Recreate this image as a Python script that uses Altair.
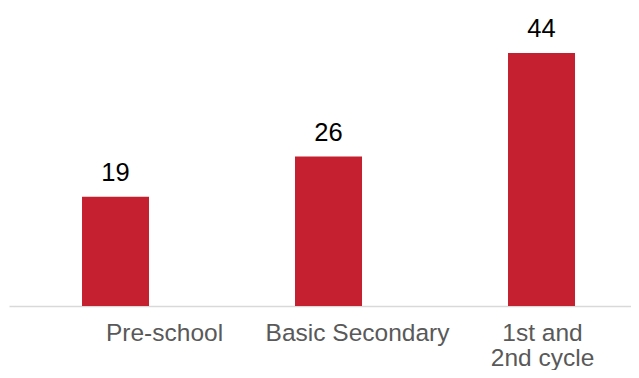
import json
import altair as alt
import pandas as pd

categories = ["Pre-school", "Basic Secondary", "1st and\n2nd cycle"]
values = [19, 26, 44]

# label horizontal offsets (style), keyed by category
label_offsets = {"Pre-school": 49, "Basic Secondary": 29, "1st and\n2nd cycle": 1}

df = pd.DataFrame({"cat": categories, "val": values})

offset_cond = {
    "condition": [
        {"test": "datum.value === " + json.dumps(c), "value": o}
        for c, o in label_offsets.items()
    ],
    "value": 0,
}

x = alt.X(
    "cat:N",
    sort=categories,
    title=None,
    scale=alt.Scale(paddingInner=0.68545, paddingOuter=0.30282, align=0.566),
    axis=alt.Axis(
        labelAngle=0,
        labelExpr="split(datum.label, '\\n')",
        labelFont="Liberation Sans",
        labelFontSize=24.5,
        labelColor="#595959",
        labelLineHeight=25,
        labelPadding=15,
        labelBaseline="top",
        labelLimit=500,
        labelOffset=offset_cond,
        ticks=False,
        tickSize=0,
        domainColor="#d9d9d9",
        domainWidth=1.5,
        grid=False,
    ),
)
y = alt.Y("val:Q", axis=None, scale=alt.Scale(domain=[0, 51.83], nice=False, zero=True))

bars = alt.Chart(df).mark_bar(color="#C5202F").encode(x=x, y=y)
text = alt.Chart(df).mark_text(
    dy=-16, baseline="alphabetic", font="Liberation Sans", fontSize=25.5, color="#000000"
).encode(x=x, y=y, text="val:Q")

chart = (
    alt.layer(bars, text)
    .properties(
        width=622,
        height=298,
        padding={"left": 1, "top": 0, "right": 0, "bottom": 64},
        autosize=alt.AutoSizeParams(type="none"),
    )
    .configure(background="#ffffff", view=alt.ViewConfig(stroke="transparent", strokeWidth=0))
)

chart.save("out.html", embed_options={"renderer": "svg", "actions": False})
